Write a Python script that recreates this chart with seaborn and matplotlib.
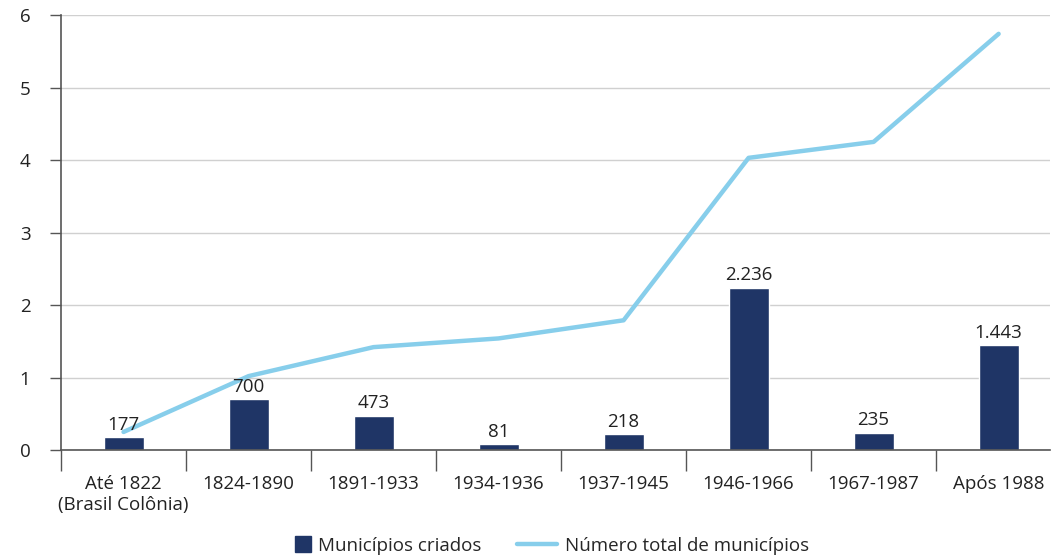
import matplotlib
matplotlib.use("Agg")
import matplotlib.pyplot as plt
from matplotlib.lines import Line2D
from matplotlib.patches import Patch, Rectangle
from matplotlib.legend_handler import HandlerPatch
import seaborn as sns
import numpy as np

categories = ["Até 1822\n(Brasil Colônia)", "1824-1890", "1891-1933", "1934-1936",
              "1937-1945", "1946-1966", "1967-1987", "Após 1988"]
criados = [0.177, 0.700, 0.473, 0.081, 0.218, 2.236, 0.235, 1.443]
criados_labels = ["177", "700", "473", "81", "218", "2.236", "235", "1.443"]
total = [0.25, 1.02, 1.42, 1.54, 1.79, 4.03, 4.25, 5.74]
yticks = [0, 1, 2, 3, 4, 5, 6]

sns.set_theme(style="white")
plt.rcParams['font.family'] = ['Open Sans', 'DejaVu Sans']

fs = 13.5
fig = plt.figure(figsize=(10.52, 5.55), dpi=100)
ax = fig.add_axes([0.058, 0.189, 0.94, 0.784])

bar_color = "#1f3566"
line_color = "#87ceeb"

sns.barplot(x=categories, y=criados, color=bar_color, width=0.32, ax=ax, saturation=1)
sns.lineplot(x=list(range(len(categories))), y=total, color=line_color, linewidth=3.2,
             ax=ax, sort=False)

for i, (v, lab) in enumerate(zip(criados, criados_labels)):
    ax.text(i, v + 0.05, lab, ha="center", va="bottom", fontsize=fs, color="#222222")

ax.set_xlim(-0.5, 7.41)
ax.set_ylim(0, 6)
ax.set_yticks(yticks)
ax.set_yticklabels([str(t) for t in yticks], fontsize=fs, color="#222222")
ax.yaxis.grid(True, color="#d0d0d0", linewidth=1)
ax.set_axisbelow(True)
ax.tick_params(axis="y", length=8, color="#555555", width=1, left=True, pad=14)

ax.set_xticks(range(len(categories)))
ax.set_xticklabels(categories, fontsize=fs, color="#222222", va="top")
ax.set_xticks([i - 0.5 for i in range(len(categories))], minor=True)
ax.tick_params(axis="x", which="major", length=0, pad=18)
ax.tick_params(axis="x", which="minor", length=15, color="#555555", width=1, bottom=True)

for s in ["top", "right"]:
    ax.spines[s].set_visible(False)
ax.spines["left"].set_color("#555555")
ax.spines["bottom"].set_color("#555555")
ax.spines["left"].set_linewidth(1.2)
ax.spines["bottom"].set_linewidth(1.2)


def square_patch(legend, orig_handle, xdescent, ydescent, width, height, fontsize):
    s = 11.5
    return Rectangle((-xdescent + width - s, -ydescent + (height - s) / 2), s, s)


handles = [
    Patch(facecolor=bar_color, edgecolor=bar_color),
    Line2D([], [], color=line_color, linewidth=3.2),
]
labels = ["Municípios criados", "Número total de municípios"]
ax.legend(handles, labels, loc="upper center", bbox_to_anchor=(0.484, -0.16), ncol=2,
          frameon=False, fontsize=fs, handlelength=2.15, columnspacing=1.9,
          handletextpad=0.4, handler_map={Patch: HandlerPatch(patch_func=square_patch)})

fig.savefig("out.png", dpi=100)
